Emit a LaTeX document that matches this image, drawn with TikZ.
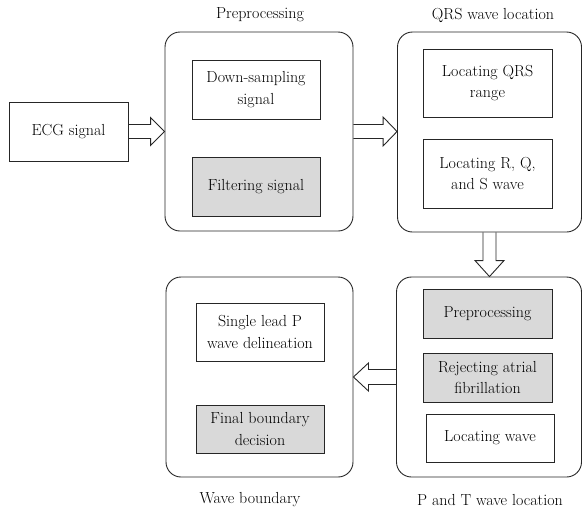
\documentclass[tikz,border=0pt]{standalone}
\begin{document}
\begin{tikzpicture}[x=1pt,y=-1pt,
  lbl/.style={font=\rmfamily\fontsize{16}{21.5}\selectfont, inner sep=0pt, align=center},
  box/.style={lbl, draw=black!85, line width=0.9pt, minimum width=#1},
  grp/.style={draw=black!85, line width=0.9pt, rounded corners=15pt, inner sep=0pt},
  shade/.style={fill=black!15},
  fatarrow/.style={draw=black!85, line width=0.9pt, line join=miter}]
\useasboundingbox (0,0) rectangle (582,512);
% titles
\node[lbl] (tpre) at (260,15) {Preprocessing};
\node[lbl] (tqrs) at (493,15) {QRS wave location};
\node[lbl] (tpt) at (490,500) {P and T wave location};
\node[lbl] (twb) at (250,500) {Wave boundary};
% groups
\node[grp, minimum width=188pt, minimum height=199pt] (pre) at (259,131.5) {};
\node[grp, minimum width=184pt, minimum height=200pt] (qrs) at (489.5,132) {};
\node[grp, minimum width=185pt, minimum height=200pt] (pt) at (489,377) {};
\node[grp, minimum width=187pt, minimum height=200pt] (wb) at (259.5,377) {};
% boxes
\node[box=119pt, minimum height=59pt] (ecg) at (68.5,131.5) {ECG signal};
\node[box=128pt, minimum height=59pt] (ds) at (256,89.5) {Down-sampling\\signal};
\node[box=128pt, minimum height=59pt, shade] (filt) at (256,186.5) {Filtering signal};
\node[box=129pt, minimum height=68pt] (lqrs) at (487.5,83) {Locating QRS\\range};
\node[box=129pt, minimum height=69pt] (lrqs) at (487.5,173.5) {Locating R, Q,\\and S wave};
\node[box=129pt, minimum height=49pt, shade] (ptpre) at (487.5,313.5) {Preprocessing};
\node[box=129pt, minimum height=49pt, shade] (rej) at (487.5,377.5) {Rejecting atrial\\fibrillation};
\node[box=128pt, minimum height=48pt] (lw) at (490,438) {Locating wave};
\node[box=128pt, minimum height=58pt] (slp) at (260,332) {Single lead P\\wave delineation};
\node[box=128pt, minimum height=48pt, shade] (fbd) at (260,429) {Final boundary\\decision};
% fat arrows
\coordinate (a1t) at (pre.west);
\draw[fatarrow] ([yshift=7pt]ecg.east) -- ([xshift=-14pt,yshift=7pt]a1t) -- ([xshift=-14pt,yshift=14pt]a1t) -- (a1t)
  -- ([xshift=-14pt,yshift=-14pt]a1t) -- ([xshift=-14pt,yshift=-7pt]a1t) -- ([yshift=-7pt]ecg.east);
\coordinate (a2t) at (pre.east -| qrs.west);
\draw[fatarrow] ([yshift=7pt]pre.east) -- ([xshift=-14pt,yshift=7pt]a2t) -- ([xshift=-14pt,yshift=14.5pt]a2t) -- (a2t)
  -- ([xshift=-14pt,yshift=-14.5pt]a2t) -- ([xshift=-14pt,yshift=-7pt]a2t) -- ([yshift=-7pt]pre.east);
\coordinate (a3t) at (qrs.south |- pt.north);
\draw[fatarrow] ([xshift=-6.5pt]qrs.south) -- ([xshift=-6.5pt,yshift=16pt]a3t) -- ([xshift=-14.5pt,yshift=16pt]a3t) -- (a3t)
  -- ([xshift=14.5pt,yshift=16pt]a3t) -- ([xshift=6.5pt,yshift=16pt]a3t) -- ([xshift=6.5pt]qrs.south);
\coordinate (a4t) at (wb.east |- pt.west);
\draw[fatarrow] ([yshift=7.5pt]pt.west) -- ([xshift=15pt,yshift=7.5pt]a4t) -- ([xshift=15pt,yshift=14pt]a4t) -- (a4t)
  -- ([xshift=15pt,yshift=-14pt]a4t) -- ([xshift=15pt,yshift=-7.5pt]a4t) -- ([yshift=-7.5pt]pt.west);
\end{tikzpicture}
\end{document}
